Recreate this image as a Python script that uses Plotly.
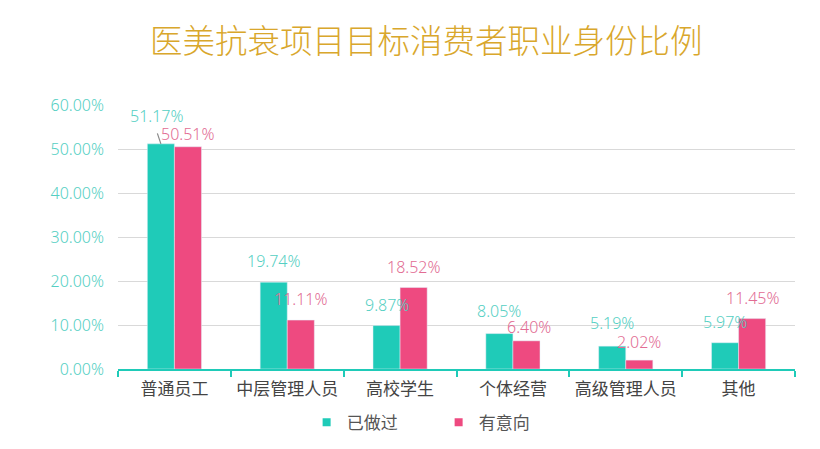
import plotly.graph_objects as go

categories = ["普通员工", "中层管理人员", "高校学生", "个体经营", "高级管理人员", "其他"]
done = [51.17, 19.74, 9.87, 8.05, 5.19, 5.97]
intend = [50.51, 11.11, 18.52, 6.40, 2.02, 11.45]
series_names = ["已做过", "有意向"]

teal = "#1FCBB8"
pink = "#EE4A80"
teal_lbl = "#55CFC3"
pink_lbl = "#E26C93"
half = 0.12  # half of a bar's width, in category units

# label placement (pixels above bar top), style only
shift_done = [28, 21, 21, 23, 23, 21]
shift_intend = [13, 21, 21, 14, 18, 21]

fig = go.Figure()
fig.add_bar(x=categories, y=done, name=series_names[0], marker_color=teal,
            offsetgroup=0, showlegend=False)
fig.add_bar(x=categories, y=intend, name=series_names[1], marker_color=pink,
            offsetgroup=1, showlegend=False)
# legend entries with small square keys
for name, col in zip(series_names, [teal, pink]):
    fig.add_scatter(x=[None], y=[None], mode="markers", name=name,
                    marker=dict(symbol="square", size=8, color=col))

lbl_font = dict(size=16, family="Noto Sans", weight=300)
annotations = []
for i, c in enumerate(categories):
    annotations.append(dict(x=i - half, y=done[i], xref="x", yref="y",
                            text=f"{done[i]:.2f}%", showarrow=False,
                            yanchor="middle", yshift=shift_done[i],
                            xshift=-4 if i == 0 else 0,
                            font=dict(color=teal_lbl, **lbl_font)))
    annotations.append(dict(x=i + half, y=intend[i], xref="x", yref="y",
                            text=f"{intend[i]:.2f}%", showarrow=False,
                            yanchor="middle", yshift=shift_intend[i],
                            xshift=3 if i == 3 else 0,
                            font=dict(color=pink_lbl, **lbl_font)))
# short leader line from the first pink label to its group
annotations.append(dict(x=0 - half, y=done[0], xref="x", yref="y", text="",
                        showarrow=True, arrowhead=0, arrowwidth=1.2,
                        arrowcolor="#8A8A8A", ax=-4, ay=-12, standoff=0))

fig.update_layout(
    width=820, height=449,
    paper_bgcolor="white", plot_bgcolor="white",
    margin=dict(l=110, r=33, t=97, b=88, autoexpand=False),
    barmode="group", bargap=0.52, bargroupgap=0,
    title=dict(text="医美抗衰项目目标消费者职业身份比例", x=0.51, xanchor="center",
               y=0.925, yanchor="middle",
               font=dict(family="Noto Sans CJK SC", size=32.5, color="#D9A72C", weight=300)),
    font=dict(family="Noto Sans CJK SC"),
    legend=dict(orientation="h", x=0.4736, xanchor="center", y=-0.135, yanchor="top",
                font=dict(size=17, color="#555555"), itemwidth=30,
                entrywidth=87, traceorder="normal"),
    annotations=annotations,
)
fig.update_yaxes(range=[0, 60], dtick=10, tickformat=".2f", ticksuffix="%",
                 tickfont=dict(color=teal_lbl, size=16, family="Noto Sans", weight=300),
                 showgrid=True, gridcolor="#D9D9D9", gridwidth=1,
                 zeroline=False, showline=False, ticks="", ticklabelstandoff=13)
fig.update_xaxes(showline=True, linecolor=teal, linewidth=2,
                 ticks="outside", tickson="boundaries", ticklen=6, tickcolor=teal,
                 tickwidth=1.5, ticklabelstandoff=4, tickangle=0,
                 tickfont=dict(color="#444444", size=17, family="Noto Sans CJK SC"))

fig.write_html("out.html")
